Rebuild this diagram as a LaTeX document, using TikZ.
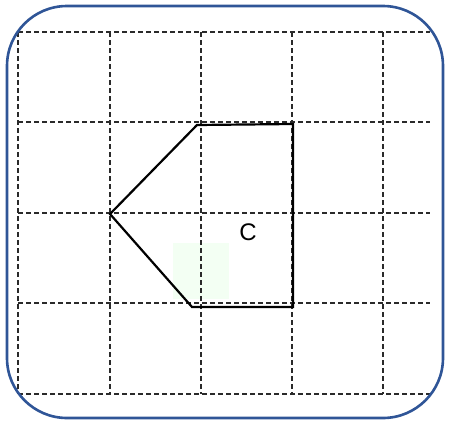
\documentclass[tikz,border=0pt]{standalone}
\usepackage{fontspec}
\setmainfont{Liberation Sans}
\definecolor{frameblue}{HTML}{2F5597}
\definecolor{gridgray}{HTML}{2A2A2A}
\definecolor{faintgreen}{HTML}{F3FFF3}
\tikzset{
  gridline/.style={draw=gridgray, line width=1.2pt, dash pattern=on 5pt off 3pt},
  framebox/.style={draw=frameblue, line width=2.6pt, rounded corners=60pt},
  polyline/.style={draw=black, line width=2.2pt, line join=miter},
  lbl/.style={font=\fontsize{24}{24}\selectfont, inner sep=0pt}
}
\begin{document}
\begin{tikzpicture}[x=1pt,y=-1pt]
\useasboundingbox (0,0) rectangle (450,421);
\fill[faintgreen] (173,243) rectangle (229,299);
\foreach \x in {18,110,201,292,383} \draw[gridline] (\x,32) -- (\x,394);
\foreach \y in {32,122,213,303,394} \draw[gridline] (18,\y) -- (430,\y);
\draw[polyline] (110,214) -- (197,125) -- (293,124) -- (293,307) -- (192,307) -- cycle;
\node[lbl] (c) at (248,232) {C};
\draw[framebox] (7,6) rectangle (443,418);
\end{tikzpicture}
\end{document}
